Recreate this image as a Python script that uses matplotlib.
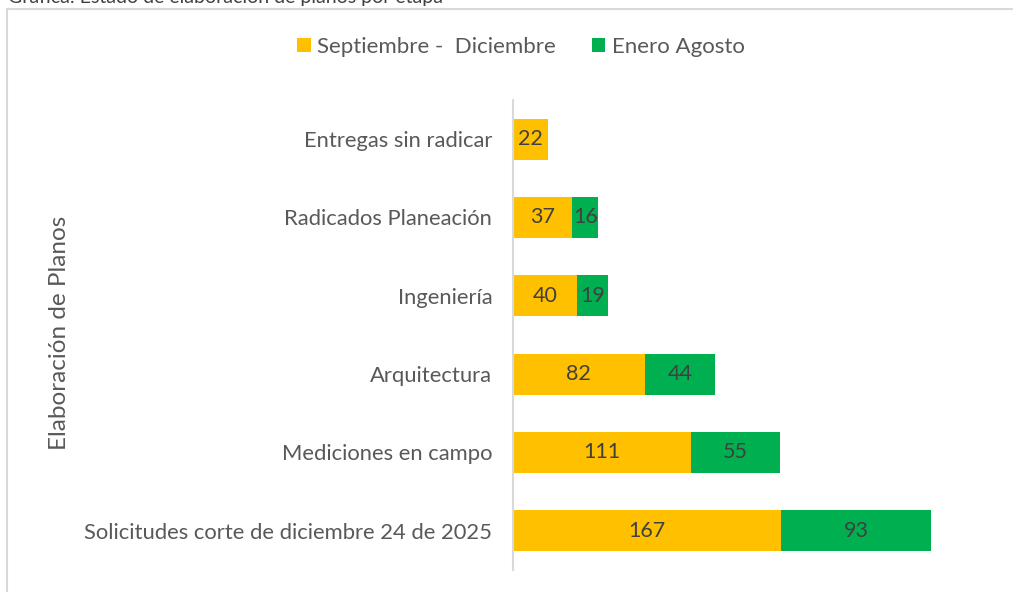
import matplotlib
matplotlib.use('Agg')
import matplotlib.pyplot as plt
from matplotlib.patches import Rectangle
import numpy as np

# data (bottom -> top)
categories = ['Solicitudes corte de diciembre 24 de 2025', 'Mediciones en campo',
              'Arquitectura', 'Ingeniería', 'Radicados Planeación', 'Entregas sin radicar']
sep_dic = [167, 111, 82, 40, 37, 22]
ene_ago = [93, 55, 44, 19, 16, 0]
series_names = ['Septiembre -  Diciembre', 'Enero Agosto']

YELLOW = '#FFC000'
GREEN = '#00B050'
TXT = '#595959'
LBL = '#404040'

plt.rcParams['font.family'] = ['Lato', 'DejaVu Sans']

W, H = 1013, 592
fig = plt.figure(figsize=(W / 100, H / 100), dpi=100)

# chart frame (light gray border)
fig.patches.append(Rectangle((7 / W, -0.05), 1.1, 1 - 9 / H + 0.05, transform=fig.transFigure,
                             fill=False, edgecolor='#d9d9d9', linewidth=1.5))
# caption, cut off at the top of the image like in the source
fig.text(8 / W, 1 - 3 / H, 'Gráfica: Estado de elaboración de planos por etapa',
         fontsize=14, color='#404040', va='baseline', ha='left')

ax = fig.add_axes([513 / W, 22 / H, 482 / W, 470 / H])
y = np.arange(len(categories))
h = 0.52
b1 = ax.barh(y, sep_dic, height=h, color=YELLOW, label=series_names[0])
b2 = ax.barh(y, ene_ago, height=h, left=sep_dic, color=GREEN, label=series_names[1])

for i in range(len(categories)):
    ax.text(sep_dic[i] / 2, y[i], str(sep_dic[i]), ha='center', va='center',
            fontsize=15.5, color=LBL)
    if ene_ago[i] > 0:
        ax.text(sep_dic[i] + ene_ago[i] / 2, y[i], str(ene_ago[i]), ha='center', va='center',
                fontsize=15.5, color=LBL)

ax.set_xlim(0, 300)
ax.set_ylim(-0.5, 5.5)
ax.set_yticks(y)
ax.set_yticklabels(categories, fontsize=15.8, color=TXT)
ax.tick_params(axis='y', length=0, pad=15)
ax.set_xticks([])
for s in ['top', 'right', 'bottom']:
    ax.spines[s].set_visible(False)
ax.spines['left'].set_color('#d9d9d9')
ax.spines['left'].set_linewidth(1.5)

fig.text(60 / W, 1 - 333 / H, 'Elaboración de Planos', rotation=90, ha='center', va='center',
         fontsize=17.5, color=TXT)

fig.legend(handles=[b1, b2], labels=series_names, loc='center', bbox_to_anchor=(521 / W, 1 - 47 / H),
           ncol=2, frameon=False, fontsize=16, labelcolor=TXT, handlelength=0.6, handleheight=0.6,
           handletextpad=0.3, columnspacing=1.6)

fig.savefig('out.png', dpi=100)
